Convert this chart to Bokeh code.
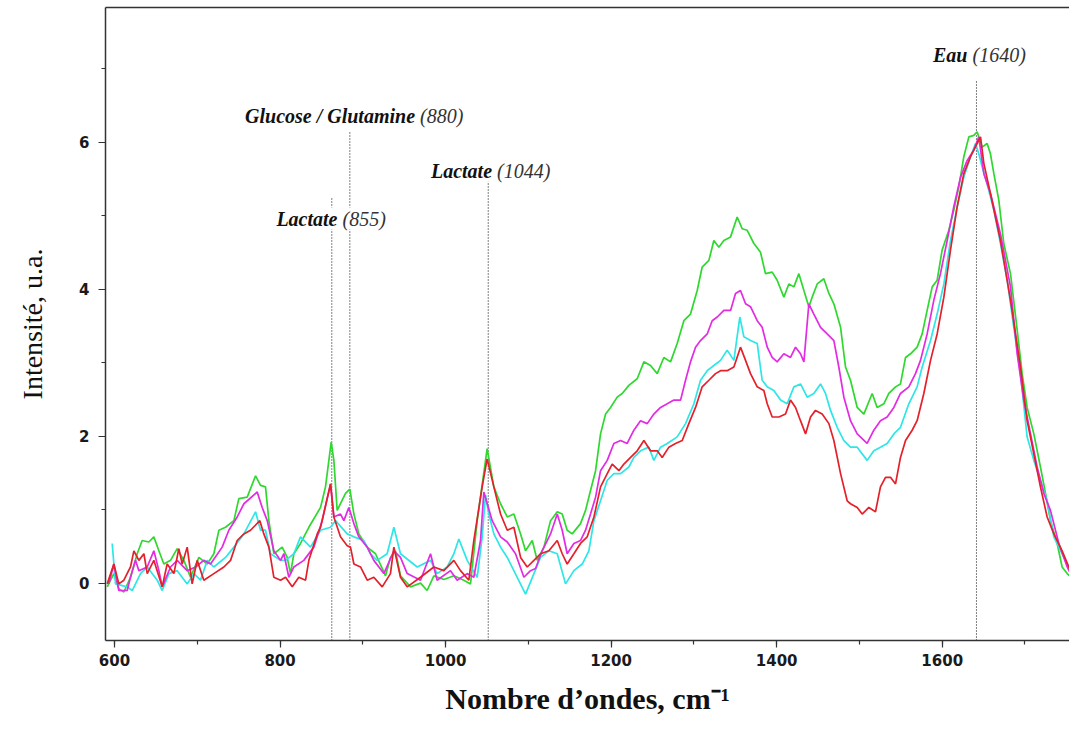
from bokeh.plotting import figure
from bokeh.models import ColumnDataSource, LabelSet, LinearAxis, SingleIntervalTicker, FixedTicker, Range1d
from bokeh.embed import file_html
from bokeh.resources import INLINE

# ---- spectra (wavenumber, intensity) ----
green_x = [591.2, 599.2, 605.2, 611.3, 619.3, 627.4, 633.4, 641.5, 647.5, 653.6, 659.6, 667.7, 675.7, 683.8, 691.8,
           701.9, 712.0, 720.0, 726.1, 734.1, 744.2, 750.2, 760.3, 770.4, 776.4, 782.4, 786.5, 792.5, 802.6, 808.6,
           812.6, 816.7, 824.7, 834.8, 848.9, 854.9, 861.8, 865.0, 869.0, 879.1, 884.3, 889.2, 895.2, 905.3, 915.3,
           923.4, 927.4, 933.4, 939.5, 945.5, 957.6, 969.7, 977.7, 985.8, 997.9, 1010.0, 1022.0, 1030.1, 1038.2, 1050.2,
           1058.3, 1066.4, 1074.5, 1082.5, 1090.6, 1096.6, 1104.7, 1110.7, 1118.8, 1126.8, 1134.9, 1140.9, 1146.9,
           1153.0, 1163.0, 1169.1, 1175.1, 1181.2, 1187.2, 1193.3, 1199.3, 1207.3, 1213.4, 1221.4, 1231.5, 1239.6,
           1247.6, 1255.7, 1263.7, 1271.8, 1279.8, 1287.9, 1295.9, 1304.0, 1310.0, 1318.1, 1324.1, 1330.2, 1336.2,
           1344.3, 1352.3, 1358.4, 1364.4, 1372.5, 1380.5, 1386.5, 1394.6, 1400.6, 1408.7, 1414.7, 1420.8, 1426.8,
           1432.9, 1438.9, 1442.9, 1449.0, 1457.0, 1463.1, 1469.1, 1477.2, 1483.2, 1489.2, 1497.3, 1505.3, 1515.4,
           1521.4, 1529.5, 1535.5, 1543.6, 1549.6, 1555.7, 1561.7, 1569.7, 1575.8, 1581.8, 1587.9, 1593.9, 1599.9,
           1608.0, 1614.0, 1620.1, 1626.1, 1632.2, 1638.2, 1642.2, 1648.3, 1654.3, 1658.3, 1662.4, 1668.4, 1674.4,
           1682.5, 1690.6, 1696.6, 1702.6, 1710.7, 1718.7, 1724.8, 1730.8, 1738.9, 1744.9, 1751.0, 1759.0]
green_y = [-0.05, 0.13, -0.08, -0.12, 0.08, 0.40, 0.58, 0.56, 0.63, 0.44, 0.26, 0.31, 0.47, 0.31, 0.08,
           0.35, 0.26, 0.40, 0.72, 0.76, 0.85, 1.15, 1.17, 1.46, 1.33, 1.31, 0.85, 0.40, 0.49, 0.35,
           0.13, 0.40, 0.54, 0.76, 1.03, 1.31, 1.92, 1.67, 0.99, 1.22, 1.28, 0.94, 0.67, 0.49, 0.40,
           0.20, 0.10, 0.35, 0.44, 0.10, -0.05, 0.00, -0.10, 0.10, 0.05, 0.10, 0.04, -0.01, 0.85, 1.83,
           1.31, 1.08, 0.90, 0.94, 0.67, 0.44, 0.58, 0.31, 0.49, 0.85, 0.97, 0.94, 0.72,
           0.67, 0.81, 0.99, 1.26, 1.53, 2.03, 2.30, 2.39, 2.53, 2.58, 2.69, 2.78, 3.01,
           2.96, 2.85, 3.07, 3.01, 3.26, 3.57, 3.66, 3.98, 4.30, 4.39, 4.66, 4.57, 4.66,
           4.71, 4.98, 4.82, 4.80, 4.62, 4.50, 4.21, 4.23, 4.12, 3.89, 4.07, 4.03, 4.21,
           3.98, 3.76, 3.89, 4.07, 4.14, 3.94, 3.80, 3.48, 2.94, 2.76, 2.39, 2.30, 2.58,
           2.39, 2.44, 2.58, 2.67, 2.71, 3.07, 3.12, 3.21, 3.39, 3.71, 4.03, 4.12, 4.53,
           4.80, 5.07, 5.39, 5.80, 6.07, 6.09, 6.14, 5.93, 5.98, 5.84, 5.57, 5.21, 4.62,
           4.21, 3.44, 2.85, 2.39, 2.03, 1.58, 1.22, 0.85, 0.54, 0.22, 0.13, 0.04]

magenta_x = [593.2, 599.2, 605.2, 615.3, 619.3, 625.4, 629.4, 639.5, 647.5, 653.6, 657.6, 667.7, 675.7, 687.8,
             697.9, 707.9, 716.0, 730.1, 738.1, 748.2, 756.3, 772.4, 778.4, 784.5, 792.5, 800.6, 804.6, 810.6,
             816.7, 828.7, 840.8, 850.9, 861.0, 865.0, 873.0, 877.1, 883.1, 889.2, 895.2, 905.3, 913.3, 925.4,
             937.5, 945.5, 953.6, 969.7, 981.8, 989.8, 1005.9, 1014.0, 1026.1, 1034.1, 1042.2, 1046.2, 1056.3,
             1066.4, 1074.5, 1084.5, 1094.6, 1102.6, 1108.7, 1116.7, 1126.8, 1134.9, 1140.9, 1146.9, 1155.0,
             1163.0, 1169.1, 1175.1, 1181.2, 1187.2, 1195.3, 1203.3, 1211.4, 1219.4, 1227.5, 1235.5, 1243.6,
             1251.6, 1259.7, 1267.8, 1275.8, 1283.9, 1289.9, 1295.9, 1302.0, 1308.0, 1316.1, 1322.1, 1328.2,
             1336.2, 1344.3, 1350.3, 1356.3, 1362.4, 1368.4, 1376.5, 1382.5, 1388.6, 1394.6, 1400.6, 1408.7,
             1416.7, 1422.8, 1428.8, 1432.9, 1438.9, 1444.9, 1453.0, 1461.0, 1469.1, 1475.1, 1481.2, 1489.2,
             1497.3, 1509.3, 1517.4, 1525.4, 1533.5, 1541.6, 1549.6, 1559.7, 1567.7, 1573.8, 1581.8, 1589.9,
             1597.9, 1606.0, 1614.0, 1622.1, 1630.2, 1638.2, 1644.2, 1650.3, 1658.3, 1670.4, 1682.5, 1690.6,
             1698.6, 1706.7, 1714.7, 1722.8, 1730.8, 1740.9, 1751.0, 1759.0]
magenta_y = [-0.01, 0.26, -0.10, -0.10, 0.08, 0.31, 0.17, 0.22, 0.44, 0.17, -0.05, 0.22, 0.31, 0.17,
             0.22, 0.31, 0.26, 0.49, 0.72, 0.90, 1.08, 1.24, 1.03, 0.85, 0.44, 0.31, 0.40, 0.08,
             0.22, 0.31, 0.49, 0.85, 1.35, 0.90, 0.94, 0.85, 1.03, 0.81, 0.63, 0.49, 0.31, 0.13,
             0.44, 0.35, 0.13, 0.04, 0.40, 0.04, 0.17, 0.04, 0.13, 0.08, 0.58, 1.24, 0.85,
             0.63, 0.56, 0.40, 0.08, 0.17, 0.20, 0.44, 0.67, 0.94, 0.72, 0.40, 0.54,
             0.58, 0.72, 0.94, 1.17, 1.53, 1.67, 1.90, 1.94, 1.90, 2.08, 2.21, 2.17,
             2.30, 2.39, 2.44, 2.49, 2.49, 2.76, 3.01, 3.21, 3.30, 3.39, 3.57, 3.62,
             3.71, 3.71, 3.94, 3.98, 3.80, 3.76, 3.57, 3.48, 3.21, 3.07, 3.01, 3.12,
             3.07, 3.21, 3.12, 3.01, 3.80, 3.66, 3.48, 3.39, 3.30, 2.94, 2.53, 2.21,
             2.03, 1.90, 2.08, 2.21, 2.26, 2.39, 2.58, 2.67, 2.85, 3.03, 3.39, 3.85,
             4.21, 4.66, 5.12, 5.52, 5.75, 5.89, 6.07, 5.57, 5.30, 4.75, 4.03, 3.12,
             2.49, 2.03, 1.58, 1.22, 0.99, 0.54, 0.22, 0.04]

cyan_x = [597.2, 601.2, 615.3, 621.4, 631.4, 639.5, 651.6, 657.6, 665.7, 675.7, 687.8, 695.9, 703.9, 712.0,
          720.0, 734.1, 744.2, 756.3, 770.4, 776.4, 782.4, 788.5, 800.6, 806.6, 816.7, 824.7, 836.8, 848.9,
          861.0, 867.0, 881.1, 889.2, 901.2, 909.3, 917.3, 929.4, 937.5, 945.5, 965.7, 981.8, 989.8, 1001.9,
          1010.0, 1016.0, 1026.1, 1038.2, 1044.2, 1048.2, 1052.2, 1058.3,
          1066.4, 1074.5, 1086.5, 1096.6, 1106.7, 1114.7, 1124.8, 1134.9, 1144.9, 1155.0, 1165.1, 1173.1,
          1179.2, 1187.2, 1195.3, 1203.3, 1211.4, 1221.4, 1227.5, 1235.5, 1245.6, 1251.6, 1259.7, 1267.8,
          1279.8, 1289.9, 1300.0, 1308.0, 1316.1, 1324.1, 1332.2, 1340.2, 1348.3, 1355.5, 1360.4, 1368.4,
          1376.5, 1382.5, 1388.6, 1396.6, 1404.7, 1412.7, 1420.8, 1428.8, 1436.9, 1444.9, 1453.0, 1459.0,
          1465.1, 1473.1, 1481.2, 1489.2, 1497.3, 1509.3, 1517.4, 1525.4, 1533.5, 1541.6, 1549.6, 1559.7,
          1569.7, 1575.8, 1585.9, 1593.9, 1602.0, 1610.0, 1618.1, 1626.1, 1634.2, 1640.2, 1644.2, 1648.3,
          1654.3, 1662.4, 1670.4, 1678.5, 1686.5, 1694.6, 1702.6, 1710.7, 1718.7, 1726.8, 1734.9, 1746.9, 1759.0]
cyan_y = [0.54, -0.01, -0.05, -0.10, 0.13, 0.22, 0.04, -0.10, 0.13, 0.17, -0.01, 0.13, 0.04, 0.31,
          0.22, 0.35, 0.49, 0.67, 0.97, 0.72, 0.72, 0.40, 0.31, 0.31, 0.40, 0.63, 0.49, 0.72,
          0.76, 0.85, 0.67, 0.63, 0.58, 0.40, 0.31, 0.40, 0.76, 0.40, 0.22, 0.31, 0.13, 0.22,
          0.40, 0.60, 0.31, 0.08, 0.63, 1.20, 0.94, 0.67,
          0.49, 0.35, 0.08, -0.15, 0.13, 0.35, 0.44, 0.40, -0.01, 0.17, 0.26, 0.44,
          0.85, 1.12, 1.40, 1.49, 1.49, 1.58, 1.71, 1.80, 1.85, 1.67, 1.85, 1.90,
          1.99, 2.17, 2.44, 2.76, 2.89, 2.96, 3.03, 3.17, 3.03, 3.62, 3.35, 3.30,
          3.26, 2.76, 2.67, 2.62, 2.49, 2.44, 2.67, 2.71, 2.53, 2.58, 2.71, 2.58,
          2.35, 2.12, 1.94, 1.85, 1.85, 1.67, 1.80, 1.85, 1.90, 2.03, 2.12, 2.44,
          2.67, 2.94, 3.30, 3.66, 4.07, 4.66, 5.12, 5.52, 5.80, 5.98, 5.84, 5.66,
          5.43, 5.07, 4.62, 4.12, 3.48, 2.85, 1.99, 1.67, 1.40, 1.12, 0.63, 0.35, 0.08]

red_x = [591.2, 599.2, 605.2, 611.3, 619.3, 623.4, 629.4, 635.5, 639.5, 647.5, 657.6, 663.6, 671.7, 677.7,
         681.8, 687.8, 693.8, 699.9, 707.9, 720.0, 732.1, 740.2, 748.2, 756.3, 764.3, 775.6, 780.4, 786.5,
         792.5, 800.6, 806.6, 814.7, 822.7, 830.8, 834.8, 844.9, 848.9, 861.0, 865.0, 873.0, 881.1, 885.1,
         889.2, 897.2, 905.3, 913.3, 923.4, 933.4, 937.5, 945.5, 953.6, 969.7, 985.8, 997.9, 1010.0, 1018.0,
         1028.1, 1034.1, 1044.2, 1050.2, 1058.3,
         1066.4, 1074.5, 1082.5, 1090.6, 1098.6, 1106.7, 1114.7, 1124.8, 1134.9, 1140.9, 1146.9, 1155.0,
         1163.0, 1171.1, 1179.2, 1187.2, 1195.3, 1201.3, 1209.4, 1215.4, 1223.5, 1231.5, 1239.6, 1247.6,
         1255.7, 1261.7, 1269.8, 1277.8, 1285.9, 1293.9, 1302.0, 1310.0, 1318.1, 1326.1, 1332.2, 1340.2,
         1348.3, 1356.3, 1362.4, 1368.4, 1376.5, 1384.5, 1388.6, 1394.6, 1402.7, 1410.7, 1416.7, 1422.8,
         1428.8, 1434.9, 1440.9, 1446.9, 1455.0, 1463.1, 1469.1, 1477.2, 1485.2, 1489.2, 1497.3, 1503.3,
         1511.4, 1519.4, 1525.4, 1531.5, 1537.5, 1543.6, 1549.6, 1555.7, 1563.7, 1569.7, 1577.8, 1585.9,
         1593.9, 1602.0, 1610.0, 1618.1, 1626.1, 1634.2, 1642.2, 1646.3, 1650.3, 1658.3, 1670.4, 1682.5,
         1694.6, 1702.6, 1710.7, 1718.7, 1726.8, 1734.9, 1744.9, 1753.0, 1759.0]
red_y = [-0.01, 0.26, -0.01, 0.04, 0.22, 0.44, 0.31, 0.40, 0.13, 0.31, -0.05, 0.26, 0.13, 0.47,
         0.26, 0.49, -0.01, 0.31, 0.04, 0.13, 0.22, 0.31, 0.58, 0.67, 0.72, 0.85, 0.67, 0.49,
         0.08, 0.04, 0.08, -0.05, 0.08, 0.04, 0.31, 0.67, 0.76, 1.35, 0.90, 0.63, 0.51, 0.49,
         0.26, 0.22, 0.04, 0.08, -0.05, 0.13, 0.49, 0.08, -0.05, 0.08, 0.22, 0.17, 0.31, 0.17,
         0.04, 0.58, 1.31, 1.69, 1.31,
         0.94, 0.72, 0.76, 0.35, 0.22, 0.31, 0.40, 0.44, 0.58, 0.40, 0.26, 0.40,
         0.54, 0.63, 0.90, 1.31, 1.49, 1.62, 1.53, 1.62, 1.71, 1.80, 1.94, 1.80,
         1.80, 1.71, 1.85, 1.90, 1.94, 2.17, 2.39, 2.67, 2.76, 2.85, 2.89, 2.89,
         2.94, 3.21, 3.03, 2.85, 2.67, 2.62, 2.44, 2.26, 2.26, 2.30, 2.49, 2.39,
         2.21, 2.03, 2.26, 2.35, 2.30, 2.17, 1.94, 1.49, 1.12, 1.08, 1.03, 0.94,
         1.03, 0.97, 1.31, 1.44, 1.44, 1.35, 1.71, 1.94, 2.08, 2.21, 2.58, 3.03,
         3.39, 3.89, 4.53, 5.12, 5.57, 5.80, 5.98, 6.07, 5.71, 5.30, 4.66, 3.85,
         2.94, 2.21, 1.76, 1.31, 0.90, 0.67, 0.44, 0.22, 0.04]

# ---- band annotations ----
ann_names = ["Lactate", "Glucose / Glutamine", "Lactate", "Eau"]
ann_values = ["(855)", "(880)", "(1044)", "(1640)"]
ann_x = [873.0, 966.7, 1059.7, 1634.2]
ann_y = [4.96, 6.35, 5.61, 7.18]
band_x = [862.5, 884.3, 1051.5, 1641.4]
band_top = [5.25, 6.13, 5.50, 6.84]

X_START, X_END = 589.1, 1753.8
Y_START, Y_END = -0.78, 7.83

p = figure(width=1069, height=721, x_range=Range1d(X_START, X_END), y_range=Range1d(Y_START, Y_END),
           output_backend="svg", toolbar_location=None,
           min_border_left=105, min_border_right=0, min_border_top=7, min_border_bottom=81)
p.outline_line_color = None
p.xgrid.grid_line_color = None
p.ygrid.grid_line_color = None
p.background_fill_color = "white"
p.border_fill_color = "white"

ax = p.below[0]
ay = p.left[0]
ax.ticker = SingleIntervalTicker(interval=200, num_minor_ticks=2)
ay.ticker = SingleIntervalTicker(interval=2, num_minor_ticks=2)
for a in (ax, ay):
    a.axis_line_color = "#333333"
    a.axis_line_width = 1.5
    a.major_tick_line_color = "#333333"
    a.minor_tick_line_color = "#333333"
    a.major_tick_line_width = 1.2
    a.minor_tick_line_width = 1.2
    a.major_tick_in = 0
    a.major_tick_out = 7
    a.minor_tick_in = 0
    a.minor_tick_out = 4
    a.major_label_text_font = "DejaVu Sans"
    a.major_label_text_font_style = "bold"
    a.major_label_text_font_size = "15px"
    a.major_label_text_color = "#1a1a1a"
    a.axis_label_text_font = "Liberation Serif"
    a.axis_label_text_color = "#111111"

ax.axis_label = "Nombre d\u2019ondes, cm\u207b\u00b9"
ax.axis_label_text_font_style = "bold"
ax.axis_label_text_font_size = "30px"
ax.major_label_standoff = 6
ax.axis_label_standoff = 13
ay.axis_label = "Intensit\u00e9, u.a."
ay.axis_label_text_font_style = "normal"
ay.axis_label_text_font_size = "28px"
ay.major_label_standoff = 9
ay.axis_label_standoff = 28

# top border line (no ticks, no labels)
top_axis = LinearAxis(ticker=FixedTicker(ticks=[]), axis_line_color="#333333", axis_line_width=1.5,
                      major_tick_out=0, major_tick_in=0, minor_tick_out=0, minor_tick_in=0,
                      major_label_standoff=0)
p.add_layout(top_axis, "above")

# dotted band markers
p.segment(x0=band_x, y0=[Y_START] * len(band_x), x1=band_x, y1=band_top,
          line_color="#000000", line_width=1, line_dash="1 2")

# spectra
series = [(green_x, green_y, "#2fd82f"), (cyan_x, cyan_y, "#2de6e6"),
          (magenta_x, magenta_y, "#e22be2"), (red_x, red_y, "#e4202a")]
for xs, ys, col in series:
    p.line(xs, ys, line_color=col, line_width=1.7)

src = ColumnDataSource(dict(x=ann_x, y=ann_y, name=ann_names, val=ann_values))
p.add_layout(LabelSet(x="x", y="y", text="name", source=src, text_align="right", text_baseline="middle",
                      x_offset=-3, text_font="Liberation Serif", text_font_style="bold italic",
                      text_font_size="20px", text_color="#111111", background_fill_color="white"))
p.add_layout(LabelSet(x="x", y="y", text="val", source=src, text_align="left", text_baseline="middle",
                      x_offset=2, text_font="Liberation Serif", text_font_style="italic",
                      text_font_size="20px", text_color="#333333", background_fill_color="white"))

open("out.html", "w").write(file_html(p, INLINE))
